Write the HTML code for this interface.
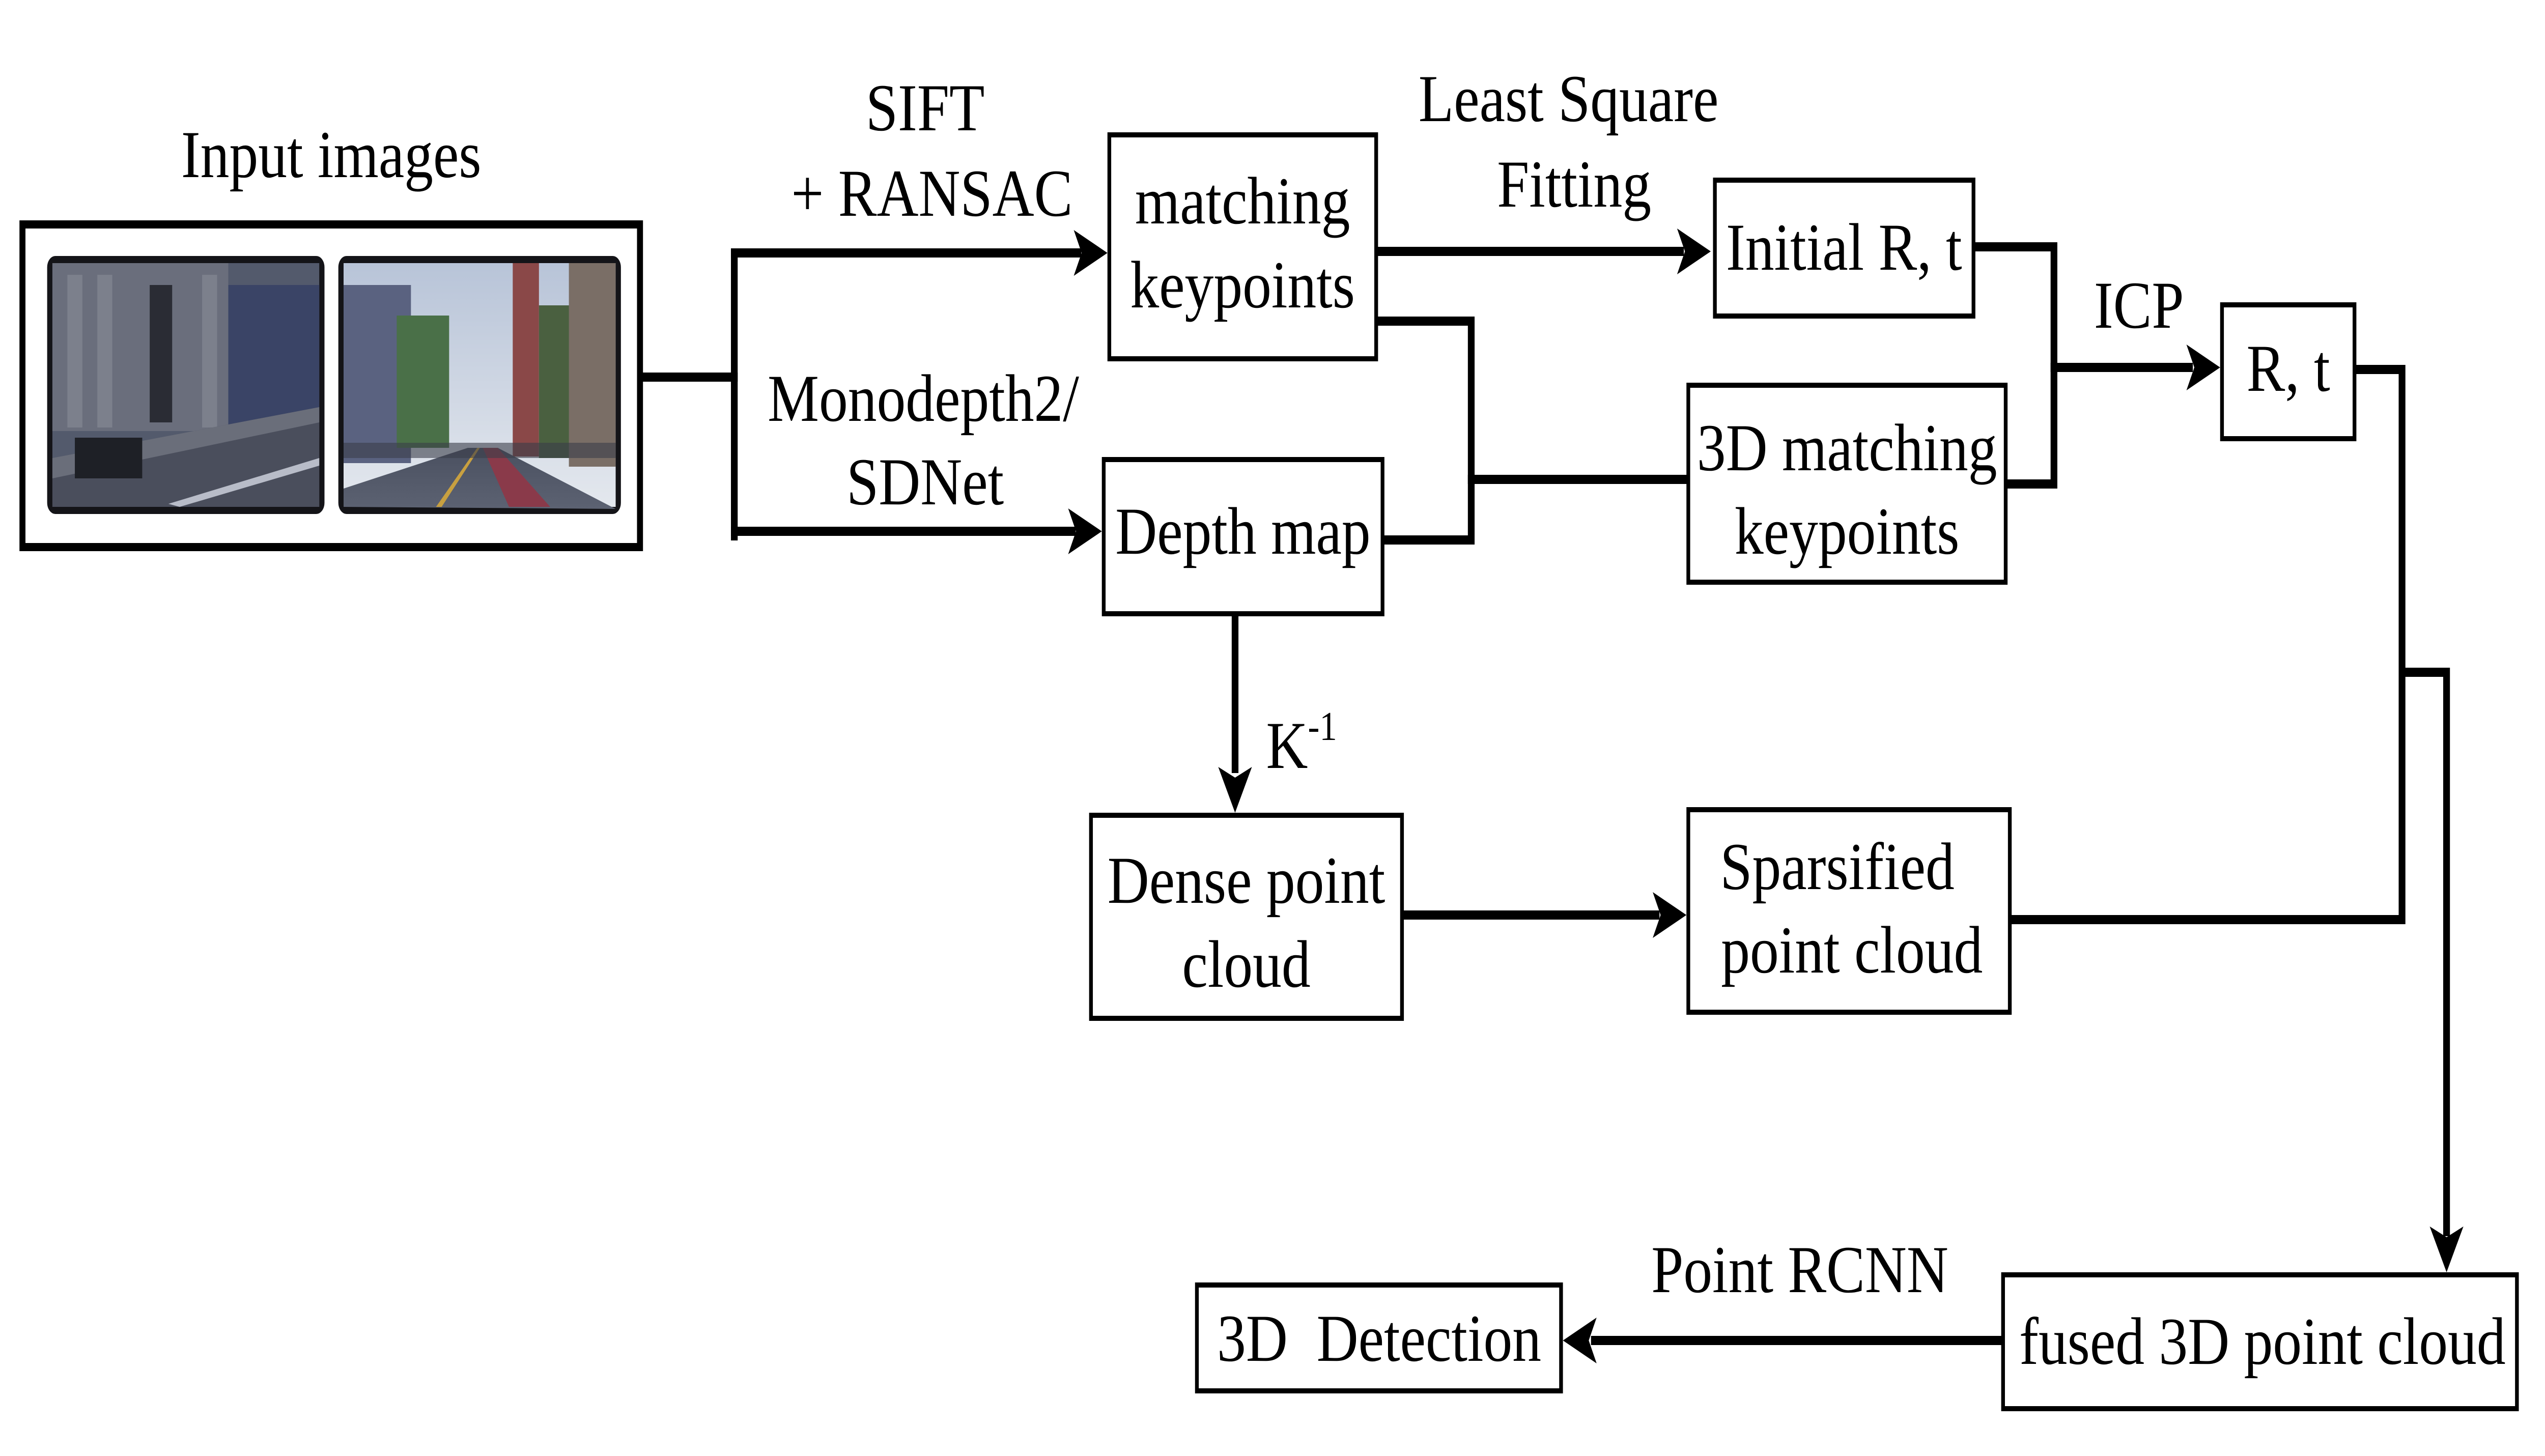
<!DOCTYPE html>
<html><head><meta charset="utf-8"><style>
html,body{margin:0;padding:0;background:#fff;width:100%;height:100%;overflow:hidden;}
svg{display:block;width:100vw;height:100vh;}
</style></head><body>
<svg viewBox="0 0 6800 2861" preserveAspectRatio="none" xmlns="http://www.w3.org/2000/svg" font-family="'Liberation Serif', 'Times New Roman', serif" font-size="132">
<defs>
<linearGradient id="sky" x1="0" y1="0" x2="0" y2="1"><stop offset="0" stop-color="#b8c4d8"/><stop offset="1" stop-color="#e4e8ee"/></linearGradient>
<linearGradient id="road" x1="0" y1="0" x2="0" y2="1"><stop offset="0" stop-color="#4a5060"/><stop offset="1" stop-color="#5c6272"/></linearGradient>
</defs>
<rect width="6800" height="2861" fill="#fff"/>

<rect x="60" y="441" width="1650" height="634" fill="none" stroke="#000" stroke-width="16"/>
<g>
<rect x="126" y="503" width="741" height="507" rx="22" fill="#141418"/>
<rect x="140" y="517" width="713" height="479" fill="#535a6c"/>
<rect x="140" y="517" width="470" height="330" fill="#6a6e7c"/>
<rect x="180" y="540" width="40" height="300" fill="#7c808c"/>
<rect x="260" y="540" width="40" height="300" fill="#7c808c"/>
<rect x="400" y="560" width="60" height="270" fill="#2a2c34"/>
<rect x="540" y="540" width="40" height="300" fill="#7c808c"/>
<rect x="610" y="560" width="243" height="300" fill="#3a4466"/>
<polygon points="140,900 853,800 853,996 140,996" fill="#4a4e5c"/>
<polygon points="140,900 853,800 853,830 140,940" fill="#6a6e7a"/>
<rect x="200" y="860" width="180" height="80" fill="#1e2026"/>
<polygon points="450,990 853,900 853,915 480,996" fill="#b8bcc8"/>
</g>
<g>
<rect x="904" y="503" width="755" height="507" rx="22" fill="#141418"/>
<rect x="918" y="517" width="727" height="479" fill="url(#sky)"/>
<rect x="918" y="560" width="180" height="350" fill="#5a6280"/>
<rect x="1060" y="620" width="140" height="260" fill="#4a7048"/>
<rect x="1370" y="517" width="70" height="380" fill="#8a4848"/>
<rect x="1440" y="600" width="90" height="300" fill="#4a6040"/>
<rect x="1520" y="517" width="125" height="400" fill="#7a6e66"/>
<polygon points="918,960 1250,880 1330,880 1645,1000 918,996" fill="url(#road)"/>
<polygon points="1290,880 1330,880 1470,996 1360,996" fill="#8a3a4a"/>
<polygon points="1275,880 1282,880 1180,996 1165,996" fill="#c8a040"/>
<rect x="918" y="870" width="727" height="30" fill="#3a3e4a" opacity=".6"/>
</g>

<g stroke="#000" stroke-width="18" fill="none" stroke-linecap="square">
<line x1="1717" y1="741" x2="1962" y2="741"/>
<line x1="1962" y1="497" x2="1962" y2="1053"/>
<line x1="1962" y1="497" x2="2880" y2="497"/>
<line x1="1962" y1="1044" x2="2865" y2="1044"/>
<line x1="3682" y1="494" x2="4490" y2="494"/>
<polyline points="3682,631 3931,631 3931,1061 3699,1061"/>
<line x1="3931" y1="942" x2="4506" y2="942"/>
<polyline points="5278,485 5488,485 5488,951 5364,951"/>
<line x1="5488" y1="722" x2="5850" y2="722"/>
<polyline points="6296,726 6418,726 6418,1807 5379,1807"/>
<polyline points="6418,1321 6537,1321 6537,2420"/>
<line x1="3300" y1="1211" x2="3300" y2="1510"/>
<line x1="3751" y1="1798" x2="4425" y2="1798"/>
<line x1="5347" y1="2634" x2="4260" y2="2634"/>
</g>
<g fill="#000">
<polygon points="2959,497 2869,452 2890,497 2869,542"/>
<polygon points="2944,1044 2854,999 2875,1044 2854,1089"/>
<polygon points="4571,494 4481,449 4502,494 4481,539"/>
<polygon points="5932,722 5842,677 5863,722 5842,767"/>
<polygon points="3300,1597 3255,1507 3300,1528 3345,1507"/>
<polygon points="4506,1798 4416,1753 4437,1798 4416,1843"/>
<polygon points="6537,2500 6492,2410 6537,2431 6582,2410"/>
<polygon points="4176,2634 4266,2589 4245,2634 4266,2679"/>
</g>

<g fill="#fff" stroke="#000" stroke-width="10">
<rect x="2964" y="265" width="713" height="440"/>
<rect x="2949" y="903" width="745" height="303"/>
<rect x="2915" y="1602" width="831" height="399"/>
<rect x="3198" y="2525" width="973" height="208"/>
<rect x="4582" y="354" width="691" height="267"/>
<rect x="4511" y="757" width="848" height="387"/>
<rect x="5937" y="599" width="354" height="263"/>
<rect x="4511" y="1591" width="859" height="398"/>
<rect x="5352" y="2505" width="1373" height="263"/>
</g>

<g text-anchor="middle" fill="#000">
<text transform="translate(885,348) scale(1.17,1)">Input images</text>
<text transform="translate(2472,256) scale(1.17,1)">SIFT</text>
<text transform="translate(2490,424) scale(1.17,1)">+ RANSAC</text>
<text transform="translate(2467,827) scale(1.17,1)">Monodepth2/</text>
<text transform="translate(2472,991) scale(1.17,1)">SDNet</text>
<text transform="translate(3320,439) scale(1.17,1)">matching</text>
<text transform="translate(3320,604) scale(1.17,1)">keypoints</text>
<text transform="translate(3321,1088) scale(1.17,1)">Depth map</text>
<text transform="translate(3330,1774) scale(1.17,1)">Dense point</text>
<text transform="translate(3330,1939) scale(1.17,1)">cloud</text>
<text transform="translate(3685,2674) scale(1.17,1)" xml:space="preserve">3D  Detection</text>
<text transform="translate(4191,238) scale(1.17,1)">Least Square</text>
<text transform="translate(4206,406) scale(1.17,1)">Fitting</text>
<text transform="translate(4927,530) scale(1.17,1)">Initial R, t</text>
<text transform="translate(4935,924) scale(1.17,1)">3D matching</text>
<text transform="translate(4935,1088) scale(1.17,1)">keypoints</text>
<text transform="translate(5715,644) scale(1.17,1)">ICP</text>
<text transform="translate(6114,768) scale(1.17,1)">R, t</text>
<text transform="translate(4909,1747) scale(1.17,1)">Sparsified</text>
<text transform="translate(4948,1911) scale(1.17,1)">point cloud</text>
<text transform="translate(6045,2680) scale(1.17,1)">fused 3D point cloud</text>
<text transform="translate(4809,2539) scale(1.17,1)">Point RCNN</text>
</g>
<text transform="translate(3383,1509) scale(1.17,1)" fill="#000">K<tspan font-size="80" dy="-55">-1</tspan></text>
</svg>
</body></html>
